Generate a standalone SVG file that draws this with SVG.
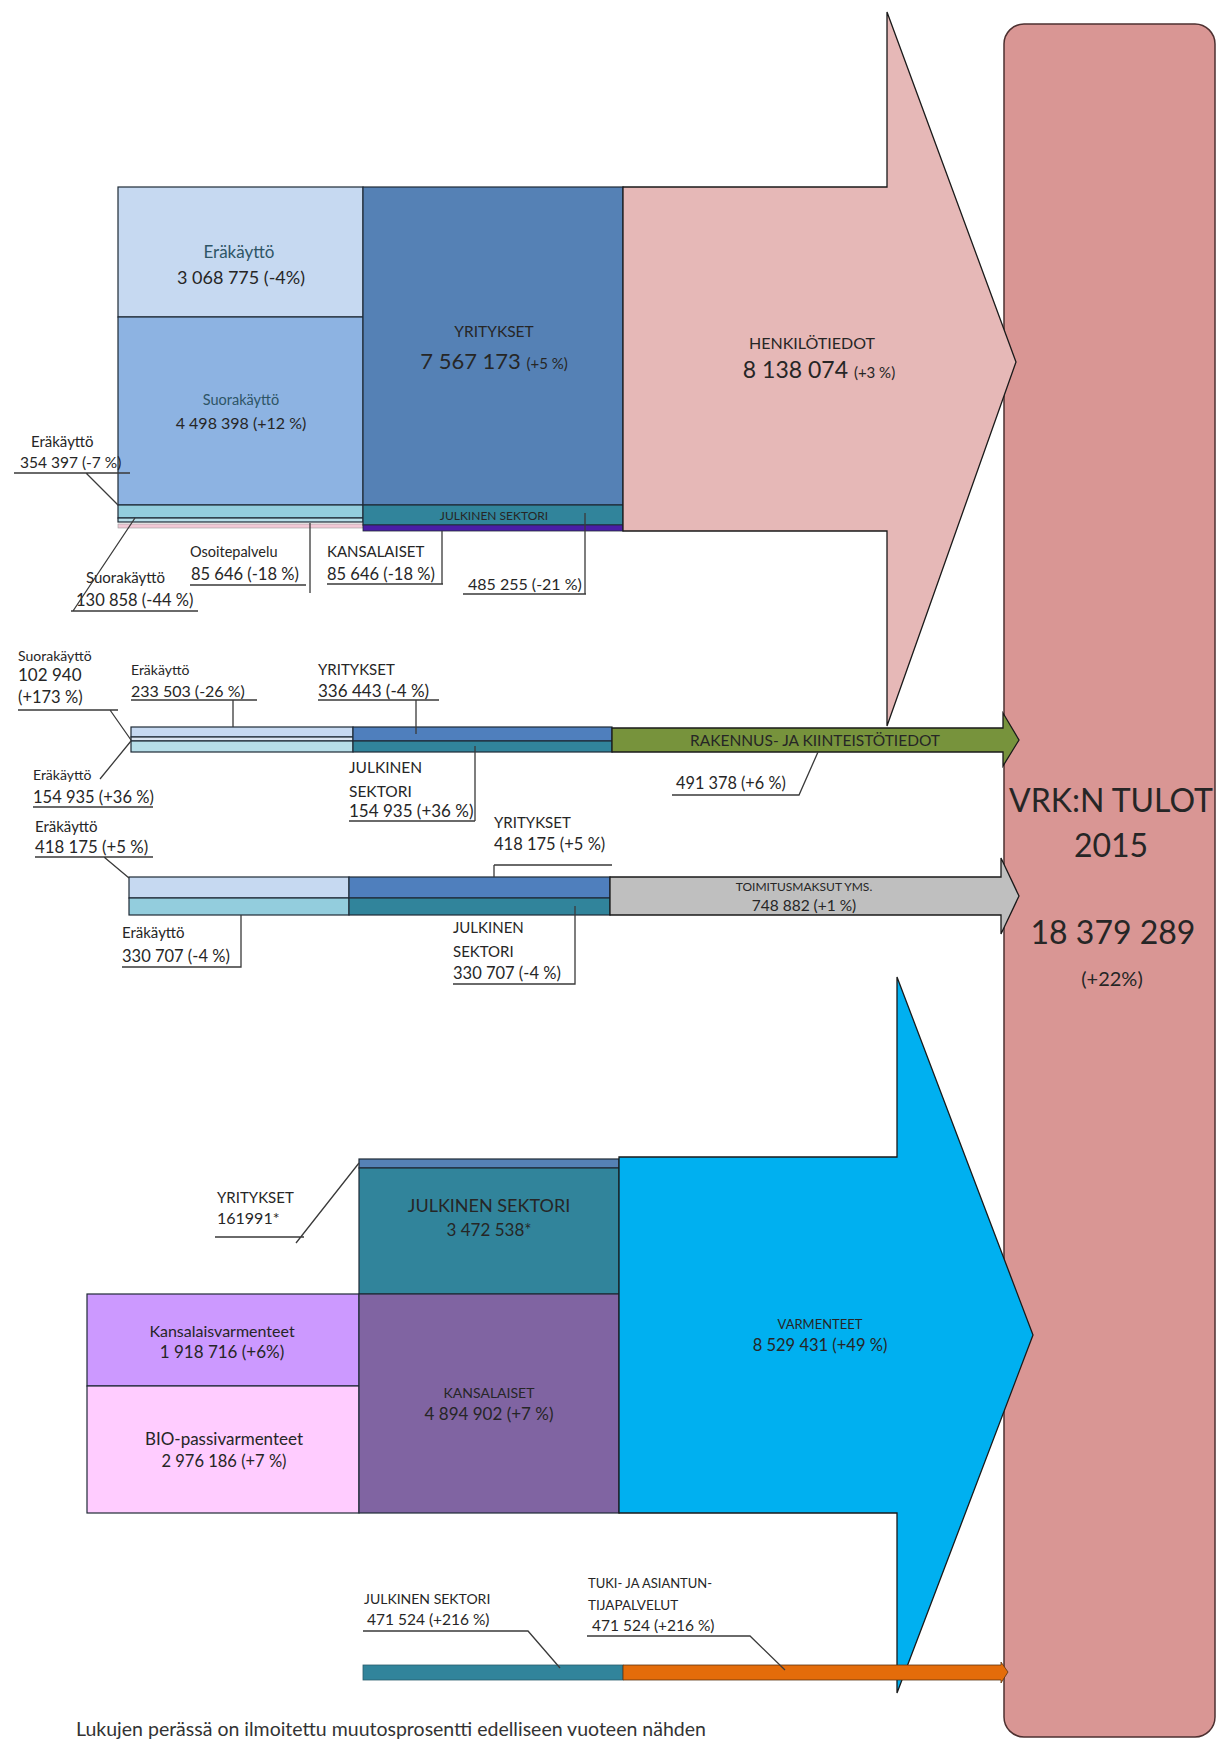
<svg xmlns="http://www.w3.org/2000/svg" width="1217" height="1744" viewBox="0 0 1217 1744">
<style>
text{font-family:Lato,"Liberation Sans","DejaVu Sans",sans-serif;fill:#262626}
.s{font-size:14px}
.n{font-size:16px}
.m{font-size:16px}
.c{text-anchor:middle}
.tl{fill:#2e5566}
.blk{stroke:#1f2a36;stroke-width:1.2}
.ln{stroke:#3a3a3a;stroke-width:1.3;fill:none}
.arr{stroke:#1a1a1a;stroke-width:1.3}
</style>
<rect width="1217" height="1744" fill="#ffffff"/>

<g id="total">
<rect x="1004" y="24" width="211" height="1713" rx="20" fill="#d99694" stroke="#4d3030" stroke-width="1.5"/>
<text class="c" x="1111" y="812" style="font-size:32px">VRK:N TULOT</text>
<text class="c" x="1111" y="857" style="font-size:32px">2015</text>
<text class="c" x="1113" y="944" style="font-size:32px">18 379 289</text>
<text class="c" x="1112" y="986" style="font-size:20px">(+22%)</text>
</g>

<!-- Section 1 -->
<g id="s1-erakaytto">
<rect class="blk" x="118" y="187" width="245" height="130" fill="#c6d9f1"/>
<text class="c tl" x="239" y="258" style="font-size:17px">Eräkäyttö</text>
<text class="c" x="241" y="284" style="font-size:18px">3 068 775 (-4%)</text>
</g>
<g id="s1-suorakaytto">
<rect class="blk" x="118" y="317" width="245" height="188" fill="#8db3e2"/>
<text class="c tl" x="241" y="405" style="font-size:14.5px">Suorakäyttö</text>
<text class="c m" x="241" y="429">4 498 398 (+12 %)</text>
</g>
<g id="s1-erakaytto-small">
<rect class="blk" x="118" y="505" width="245" height="13" fill="#93cddd"/>
</g>
<g id="s1-suorakaytto-small">
<rect class="blk" x="118" y="518" width="245" height="4" fill="#b7dee8"/>
</g>
<g id="s1-osoitepalvelu">
<rect x="118" y="524" width="245" height="4" fill="#f2c9d6" stroke="#9a9a9a" stroke-width="0.6"/>
</g>
<g id="s1-yritykset">
<rect class="blk" x="363" y="187" width="260" height="318" fill="#5581b5"/>
<text class="c" x="494" y="337" style="font-size:15.5px">YRITYKSET</text>
<text class="c" x="494" y="369" style="font-size:22px">7 567 173 <tspan style="font-size:15px">(+5 %)</tspan></text>
</g>
<g id="s1-julkinen">
<rect class="blk" x="363" y="505" width="260" height="20" fill="#31849b"/>
<text class="c" x="494" y="520" style="font-size:12px">JULKINEN SEKTORI</text>
</g>
<g id="s1-kansalaiset">
<rect x="363" y="525" width="260" height="6" fill="#4a1ea6" stroke="#1f2a36" stroke-width="0.8"/>
</g>
<g id="henkilotiedot">
<polygon class="arr" points="623,187 887,187 887,12 1016,362 887,726 887,531 623,531" fill="#e6b8b7"/>
<text class="c" x="812" y="349" style="font-size:16px">HENKILÖTIEDOT</text>
<text class="c" x="819" y="378" style="font-size:23px">8 138 074 <tspan style="font-size:15px">(+3 %)</tspan></text>
</g>

<!-- Section 2 -->
<g id="s2-erakaytto">
<rect class="blk" x="131" y="727" width="222" height="10" fill="#c6d9f1"/>
</g>
<g id="s2-suorakaytto">
<rect class="blk" x="131" y="737" width="222" height="4" fill="#dbe5f1"/>
</g>
<g id="s2-erakaytto2">
<rect class="blk" x="131" y="741" width="222" height="11" fill="#b7dee8"/>
</g>
<g id="s2-yritykset">
<rect class="blk" x="353" y="727" width="259" height="14" fill="#4f7fbd"/>
</g>
<g id="s2-julkinen">
<rect class="blk" x="353" y="741" width="259" height="11" fill="#31849b"/>
</g>
<g id="rakennus">
<polygon class="arr" points="612,728 1003,728 1003,713 1019,740 1003,766 1003,752 612,752" fill="#77933c"/>
<text class="c" x="815" y="746" style="font-size:15.5px">RAKENNUS- JA KIINTEISTÖTIEDOT</text>
</g>

<!-- Section 3 -->
<g id="s3-erakaytto">
<rect class="blk" x="129" y="877" width="220" height="21" fill="#c6d9f1"/>
</g>
<g id="s3-erakaytto2">
<rect class="blk" x="129" y="898" width="220" height="17" fill="#93cddd"/>
</g>
<g id="s3-yritykset">
<rect class="blk" x="349" y="877" width="261" height="21" fill="#4f7fbd"/>
</g>
<g id="s3-julkinen">
<rect class="blk" x="349" y="898" width="261" height="17" fill="#31849b"/>
</g>
<g id="toimitusmaksut">
<polygon class="arr" points="610,877 1001,877 1001,858 1019,896 1001,934 1001,915 610,915" fill="#bfbfbf"/>
<text class="c" x="804" y="891" style="font-size:12px">TOIMITUSMAKSUT YMS.</text>
<text class="c" x="804" y="911" style="font-size:15.5px">748 882 (+1 %)</text>
</g>

<!-- Section 4 -->
<g id="s4-yritykset">
<rect class="blk" x="359" y="1159" width="260" height="9" fill="#5581b5"/>
</g>
<g id="s4-julkinen">
<rect class="blk" x="359" y="1168" width="260" height="126" fill="#31849b"/>
<text class="c" x="489" y="1212" style="font-size:18px">JULKINEN SEKTORI</text>
<text class="c" x="489" y="1236" style="font-size:17px">3 472 538*</text>
</g>
<g id="s4-kansalaisvarmenteet">
<rect class="blk" x="87" y="1294" width="272" height="92" fill="#cc99ff"/>
<text class="c" x="222" y="1337" style="font-size:16px">Kansalaisvarmenteet</text>
<text class="c" x="222" y="1358" style="font-size:17px">1 918 716 (+6%)</text>
</g>
<g id="s4-bio">
<rect class="blk" x="87" y="1386" width="272" height="127" fill="#ffccff"/>
<text class="c" x="224" y="1445" style="font-size:17px">BIO-passivarmenteet</text>
<text class="c" x="224" y="1467" style="font-size:16.5px">2 976 186 (+7 %)</text>
</g>
<g id="s4-kansalaiset">
<rect class="blk" x="359" y="1294" width="260" height="219" fill="#8064a2"/>
<text class="c" x="489" y="1398" style="font-size:14px">KANSALAISET</text>
<text class="c" x="489" y="1420" style="font-size:17px">4 894 902 (+7 %)</text>
</g>
<g id="varmenteet">
<polygon class="arr" points="619,1157 897,1157 897,977 1033,1335 897,1693 897,1513 619,1513" fill="#00b0f0"/>
<text class="c" x="820" y="1329" style="font-size:13px">VARMENTEET</text>
<text class="c" x="820" y="1351" style="font-size:16.5px">8 529 431 (+49 %)</text>
</g>

<!-- Section 5 -->
<g id="s5-julkinen">
<rect x="363" y="1665" width="260" height="15" fill="#31849b" stroke="#2a5d6b" stroke-width="0.8"/>
</g>
<g id="tuki">
<polygon points="623,1665 1001,1665 1001,1662 1008,1672 1001,1683 1001,1680 623,1680" fill="#e46c0a" stroke="#5a3410" stroke-width="0.8"/>
</g>

<!-- labels outside nodes -->
<g id="labels">
<text class="s" x="31" y="447" style="font-size:15px">Eräkäyttö</text>
<text x="20" y="468" style="font-size:15.5px">354 397 (-7 %)</text>
<text x="86" y="583" style="font-size:15px">Suorakäyttö</text>
<text x="76" y="606" style="font-size:16.5px">130 858 (-44 %)</text>
<text x="190" y="557" style="font-size:14.5px">Osoitepalvelu</text>
<text x="191" y="580" style="font-size:16.5px">85 646 (-18 %)</text>
<text x="327" y="557" style="font-size:15px">KANSALAISET</text>
<text x="327" y="580" style="font-size:16.5px">85 646 (-18 %)</text>
<text x="468" y="590" style="font-size:16px">485 255 (-21 %)</text>

<text class="s" x="18" y="661">Suorakäyttö</text>
<text x="18" y="681" style="font-size:17px">102 940</text>
<text x="18" y="703" style="font-size:16.5px">(+173 %)</text>
<text class="s" x="131" y="675">Eräkäyttö</text>
<text class="n" x="131" y="697">233 503 (-26 %)</text>
<text x="318" y="675" style="font-size:15px">YRITYKSET</text>
<text x="318" y="697" style="font-size:17px">336 443 (-4 %)</text>
<text class="s" x="33" y="780">Eräkäyttö</text>
<text x="33" y="803" style="font-size:16.5px">154 935 (+36 %)</text>
<text x="349" y="773" style="font-size:15.5px">JULKINEN</text>
<text x="349" y="797" style="font-size:15.5px">SEKTORI</text>
<text x="349" y="817" style="font-size:17px">154 935 (+36 %)</text>
<text x="676" y="789" style="font-size:16.3px">491 378 (+6 %)</text>

<text x="35" y="832" style="font-size:15px">Eräkäyttö</text>
<text x="35" y="853" style="font-size:16.8px">418 175 (+5 %)</text>
<text x="494" y="828" style="font-size:15px">YRITYKSET</text>
<text x="494" y="850" style="font-size:16.5px">418 175 (+5 %)</text>
<text x="122" y="938" style="font-size:15px">Eräkäyttö</text>
<text x="122" y="962" style="font-size:16.5px">330 707 (-4 %)</text>
<text x="453" y="933" style="font-size:15px">JULKINEN</text>
<text x="453" y="957" style="font-size:15px">SEKTORI</text>
<text x="453" y="979" style="font-size:16.5px">330 707 (-4 %)</text>

<text x="217" y="1203" style="font-size:15px">YRITYKSET</text>
<text x="217" y="1224" style="font-size:16px">161991*</text>

<text class="s" x="364" y="1604">JULKINEN SEKTORI</text>
<text x="367" y="1625" style="font-size:15.5px">471 524 (+216 %)</text>
<text x="588" y="1588" style="font-size:13px">TUKI- JA ASIANTUN-</text>
<text x="588" y="1610" style="font-size:13.5px">TIJAPALVELUT</text>
<text x="592" y="1631" style="font-size:15.5px">471 524 (+216 %)</text>

<text x="76" y="1736" style="font-size:19.5px;fill:#333">Lukujen perässä on ilmoitettu muutosprosentti edelliseen vuoteen nähden</text>
</g>

<g id="connectors" class="ln">
<path d="M14 473H130M86 473L118 505"/>
<path d="M71 611H198M73 611L135 518"/>
<path d="M190 585H306M310 523V593"/>
<path d="M327 584H443M442 531V584"/>
<path d="M463 594H586M585 513V594"/>

<path d="M18 710H118M110 710L131 740"/>
<path d="M131 700H257M233 700V727"/>
<path d="M318 700H439M416 700V734"/>
<path d="M33 807H153M131 741L100 779"/>
<path d="M349 821H475M475 746V821"/>
<path d="M672 795H799L818 752"/>

<path d="M35 857H153M104 857L129 878"/>
<path d="M494 865H612M494 865V877"/>
<path d="M122 967H241V915"/>
<path d="M453 984H575V906"/>

<path d="M215 1237H304M296 1243L359 1163"/>

<path d="M363 1631H528L560 1668"/>
<path d="M587 1636H750L785 1670"/>
</g>
</svg>
